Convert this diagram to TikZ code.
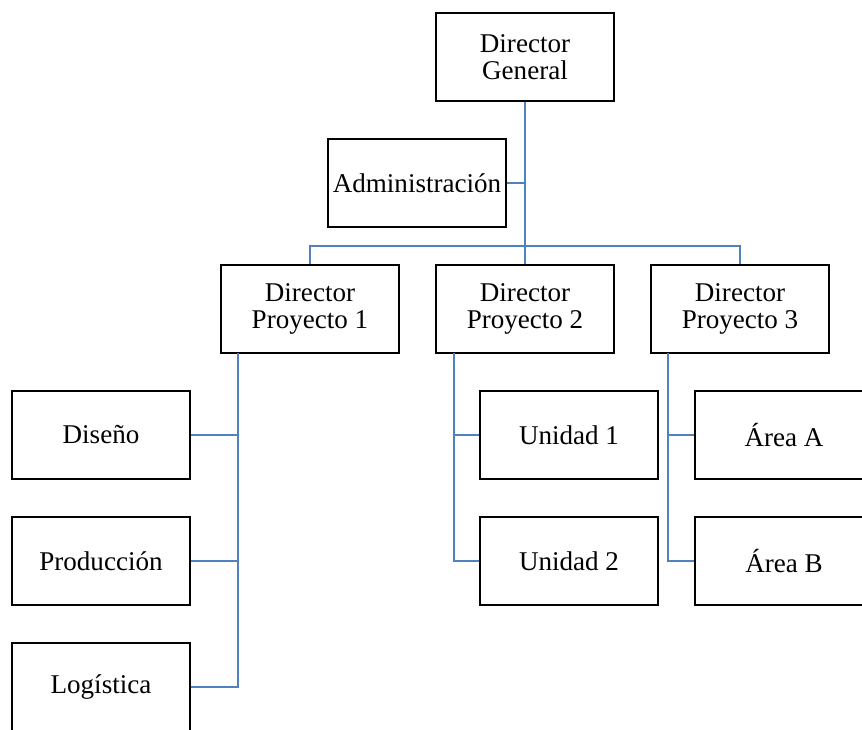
\documentclass[tikz,border=0pt]{standalone}
\usepackage{fontspec}
\setmainfont{Liberation Serif}
\definecolor{linkblue}{RGB}{79,129,189}
\begin{document}
\begin{tikzpicture}[x=0.75pt,y=-0.75pt,
  unit/.style={draw=black, line width=2.1pt, rectangle, inner sep=0pt,
    minimum width=133.5pt, minimum height=66pt, align=center,
    font=\fontsize{20.3}{20.5}\selectfont},
  link/.style={draw=linkblue, line width=0.9pt}]
\useasboundingbox (0,0) rectangle (862,729);
\clip (0,0) rectangle (862,729);

% top level
\node[unit] (dg)  at (525,57)  {Director\\General};
\node[unit] (adm) at (417,183) {Administración};

% project directors
\node[unit] (dp1) at (310,309) {Director\\Proyecto 1};
\node[unit] (dp2) at (525,309) {Director\\Proyecto 2};
\node[unit] (dp3) at (740,309) {Director\\Proyecto 3};

% project 1 units
\node[unit] (dis) at (101,435) {Diseño};
\node[unit] (pro) at (101,561) {Producción};
\node[unit] (log) at (101,687) {Logística};

% project 2 units
\node[unit] (un1) at (569,435) {Unidad 1};
\node[unit] (un2) at (569,561) {Unidad 2};

% project 3 units
\node[unit] (ara) at (784,435) {Área A};
\node[unit] (arb) at (784,561) {Área B};

% connector junctions
\coordinate (bus) at (525,246);
\coordinate (t1) at (238,353);
\coordinate (t2) at (454,353);
\coordinate (t3) at (668,353);

% connectors
\draw[link] (dg.south) -- (dp2.north);
\draw[link] (adm.east) -- (adm.east -| dg.south);
\draw[link] (dp1.north) |- (bus) -| (dp3.north);

\draw[link] (t1) |- (dis.east);
\draw[link] (t1) |- (pro.east);
\draw[link] (t1) |- (log.east);

\draw[link] (t2) |- (un1.west);
\draw[link] (t2) |- (un2.west);

\draw[link] (t3) |- (ara.west);
\draw[link] (t3) |- (arb.west);
\end{tikzpicture}
\end{document}
